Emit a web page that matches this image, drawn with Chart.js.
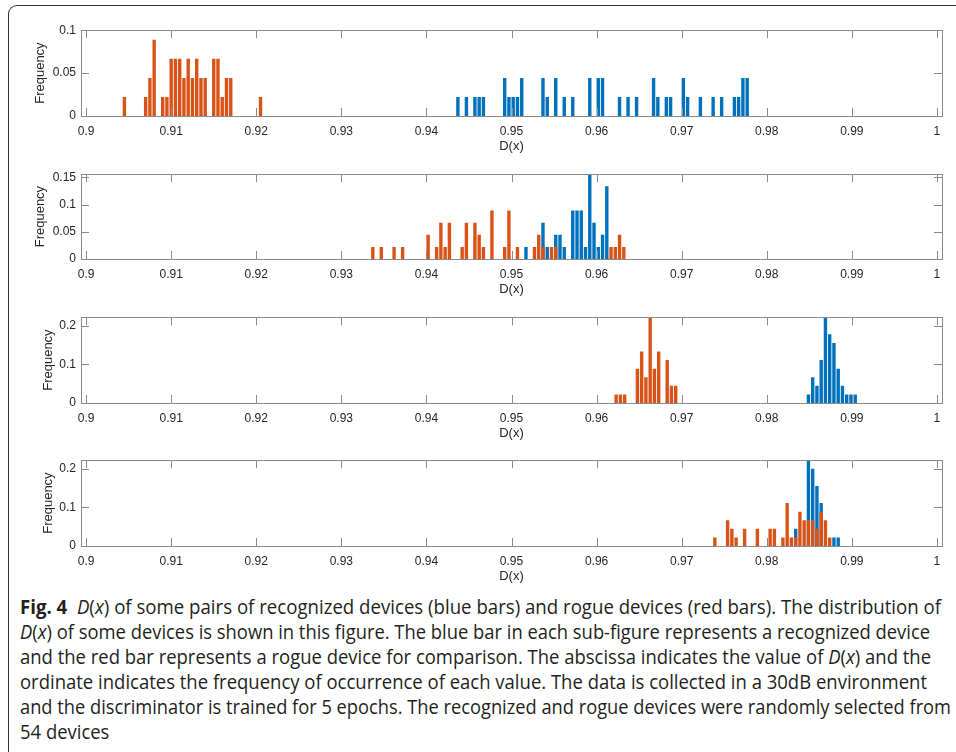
<!DOCTYPE html>
<html>
<head>
<meta charset="utf-8">
<script src="https://cdn.jsdelivr.net/npm/chart.js@4.4.1/dist/chart.umd.min.js"></script>
<style>
  html, body { margin: 0; padding: 0; background: #fff; }
  body { width: 956px; height: 752px; position: relative; overflow: hidden; }
  #frame { position: absolute; left: 8px; top: 5px; width: 980px; height: 780px;
           border-top: 1.3px solid #333; border-left: 1.3px solid #333; border-top-left-radius: 9px; }
  canvas { position: absolute; left: 0; }
  .ln { position: absolute; left: 20px; white-space: nowrap; font-family: 'Open Sans', sans-serif;
        font-size: 20px; line-height: 25px; color: #231f20; transform-origin: 0 50%; }
</style>
</head>
<body>
<div id="frame"></div>
<canvas id="p1" width="956" height="138" style="top:18px"></canvas>
<canvas id="p2" width="956" height="137" style="top:162px"></canvas>
<canvas id="p3" width="956" height="138" style="top:305px"></canvas>
<canvas id="p4" width="956" height="138" style="top:448px"></canvas>

<div class="ln" data-w="921" style="top:594px"><b>Fig. 4</b>&nbsp; <i>D</i>(<i>x</i>) of some pairs of recognized devices (blue bars) and rogue devices (red bars). The distribution of</div>
<div class="ln" data-w="910" style="top:619px"><i>D</i>(<i>x</i>) of some devices is shown in this figure. The blue bar in each sub-figure represents a recognized device</div>
<div class="ln" data-w="911" style="top:644px">and the red bar represents a rogue device for comparison. The abscissa indicates the value of <i>D</i>(<i>x</i>) and the</div>
<div class="ln" data-w="907" style="top:669px">ordinate indicates the frequency of occurrence of each value. The data is collected in a 30dB environment</div>
<div class="ln" data-w="931" style="top:694px">and the discriminator is trained for 5 epochs. The recognized and rogue devices were randomly selected from</div>
<div class="ln" id="last" style="top:719px">54 devices</div>

<script>
// ========== Data ==========
const xTicks = [0.9, 0.91, 0.92, 0.93, 0.94, 0.95, 0.96, 0.97, 0.98, 0.99, 1];
const xTickLabels = ['0.9', '0.91', '0.92', '0.93', '0.94', '0.95', '0.96', '0.97', '0.98', '0.99', '1'];

// panel 1
const p1RedX = [0.9045, 0.907, 0.9075, 0.908, 0.909, 0.9095, 0.91, 0.9105, 0.911, 0.9115, 0.912,
                0.9125, 0.913, 0.9135, 0.914, 0.915, 0.9155, 0.916, 0.9165, 0.917, 0.9205];
const p1RedY = [0.0222, 0.0222, 0.0444, 0.0889, 0.0222, 0.0222, 0.0667, 0.0667, 0.0667, 0.0444, 0.0667,
                0.0444, 0.0667, 0.0444, 0.0444, 0.0667, 0.0667, 0.0222, 0.0444, 0.0444, 0.0222];
const p1BlueX = [0.9437, 0.9447, 0.9457, 0.9462, 0.9467, 0.9492, 0.9497, 0.9502, 0.9507, 0.9512,
                 0.9537, 0.9542, 0.9552, 0.9562, 0.9572, 0.9592, 0.9602, 0.9607, 0.9627, 0.9637,
                 0.9647, 0.9667, 0.9672, 0.9682, 0.9687, 0.9702, 0.9707, 0.9722, 0.9737, 0.9747,
                 0.9762, 0.9767, 0.9772, 0.9777];
const p1BlueY = [0.0222, 0.0222, 0.0222, 0.0222, 0.0222, 0.0444, 0.0222, 0.0222, 0.0222, 0.0444,
                 0.0444, 0.0222, 0.0444, 0.0222, 0.0222, 0.0444, 0.0444, 0.0444, 0.0222, 0.0222,
                 0.0222, 0.0444, 0.0222, 0.0222, 0.0222, 0.0444, 0.0222, 0.0222, 0.0222, 0.0222,
                 0.0222, 0.0222, 0.0444, 0.0444];
const p1YTicks = [0, 0.05, 0.1];
const p1YTickLabels = ['0', '0.05', '0.1'];
const p1YMax = 0.1;

// panel 2
const p2RedX = [0.9337, 0.9347, 0.9362, 0.9372, 0.9402, 0.9412, 0.9417, 0.9422, 0.9427, 0.9442,
                0.9447, 0.9457, 0.9462, 0.9467, 0.9477, 0.9492, 0.9497, 0.9507, 0.9527, 0.9532,
                0.9537, 0.9547, 0.9552, 0.9617, 0.9622, 0.9627, 0.9632];
const p2RedY = [0.0222, 0.0222, 0.0222, 0.0222, 0.0444, 0.0222, 0.0667, 0.0222, 0.0667, 0.0222,
                0.0667, 0.0667, 0.0444, 0.0222, 0.0889, 0.0222, 0.0889, 0.0222, 0.0222, 0.0444,
                0.0222, 0.0222, 0.0222, 0.0222, 0.0222, 0.0444, 0.0222];
const p2BlueX = [0.9517, 0.9537, 0.9542, 0.9552, 0.9557, 0.9562, 0.9572, 0.9577, 0.9582, 0.9587,
                 0.9592, 0.9597, 0.9602, 0.9607, 0.9612];
const p2BlueY = [0.0222, 0.0667, 0.0222, 0.0444, 0.0444, 0.0222, 0.0889, 0.0889, 0.0889, 0.0222,
                 0.1556, 0.0667, 0.0222, 0.0444, 0.1333];
const p2YTicks = [0, 0.05, 0.1, 0.15];
const p2YTickLabels = ['0', '0.05', '0.1', '0.15'];
const p2YMax = 0.1556;

// panel 3
const p3RedX = [0.9623, 0.9628, 0.9633, 0.9648, 0.9653, 0.9658, 0.9663, 0.9668, 0.9673, 0.9683, 0.9688, 0.9693];
const p3RedY = [0.0222, 0.0222, 0.0222, 0.0889, 0.1333, 0.0667, 0.2222, 0.0889, 0.1333, 0.1111, 0.0444, 0.0444];
const p3BlueX = [0.9849, 0.9854, 0.9859, 0.9864, 0.9869, 0.9874, 0.9879, 0.9884, 0.9889, 0.9894, 0.9899, 0.9904];
const p3BlueY = [0.0222, 0.0667, 0.0444, 0.1111, 0.2222, 0.1778, 0.1556, 0.0889, 0.0444, 0.0222, 0.0222, 0.0222];
const p3YTicks = [0, 0.1, 0.2];
const p3YTickLabels = ['0', '0.1', '0.2'];
const p3YMax = 0.2222;

// panel 4
const p4RedX = [0.9739, 0.9754, 0.9759, 0.9764, 0.9774, 0.9789, 0.9804, 0.9809, 0.9819, 0.9824,
                0.9829, 0.9834, 0.9839, 0.9844, 0.9849, 0.9854, 0.9859, 0.9864, 0.9869, 0.9874];
const p4RedY = [0.0222, 0.0667, 0.0444, 0.0222, 0.0444, 0.0444, 0.0444, 0.0444, 0.0222, 0.1111,
                0.0222, 0.0222, 0.0889, 0.0667, 0.0667, 0.0667, 0.0444, 0.0889, 0.0667, 0.0222];
const p4BlueX = [0.9834, 0.9849, 0.9854, 0.9859, 0.9864, 0.9879, 0.9884];
const p4BlueY = [0.0444, 0.2222, 0.2, 0.1556, 0.1111, 0.0222, 0.0222];
const p4YTicks = [0, 0.1, 0.2];
const p4YTickLabels = ['0', '0.1', '0.2'];
const p4YMax = 0.2222;

const RED = '#D95319';
const BLUE = '#0072BD';
const AXIS = '#8a8a8a';
const TXT = '#262626';
const FONT = "'Liberation Sans', Arial, sans-serif";

// ========== MATLAB style box with inward ticks ==========
const matlabBox = {
  id: 'matlabBox',
  afterDatasetsDraw(chart) {
    const { ctx, chartArea: a, scales: { x, y } } = chart;
    const len = 8;
    ctx.save();
    ctx.strokeStyle = AXIS;
    ctx.lineWidth = 1;
    ctx.beginPath();
    x.ticks.forEach(t => {
      const px = Math.round(x.getPixelForValue(t.value)) + 0.5;
      ctx.moveTo(px, a.bottom); ctx.lineTo(px, a.bottom - len);
      ctx.moveTo(px, a.top); ctx.lineTo(px, a.top + len);
    });
    y.ticks.forEach(t => {
      const py = Math.round(y.getPixelForValue(t.value)) + 0.5;
      ctx.moveTo(a.left, py); ctx.lineTo(a.left + len, py);
      ctx.moveTo(a.right, py); ctx.lineTo(a.right - len, py);
    });
    ctx.stroke();
    ctx.strokeRect(Math.round(a.left) + 0.5, Math.round(a.top) + 0.5,
                   Math.round(a.right - a.left), Math.round(a.bottom - a.top));
    ctx.restore();
  }
};

function toPoints(xs, ys) {
  return xs.map((v, i) => ({ x: v, y: ys[i] }));
}

function makePanel(id, redX, redY, blueX, blueY, yMax, yTicks, yTickLabels, titleX) {
  new Chart(document.getElementById(id), {
    type: 'bar',
    data: {
      datasets: [
        { label: 'rogue', data: toPoints(redX, redY), backgroundColor: RED },
        { label: 'recognized', data: toPoints(blueX, blueY), backgroundColor: BLUE }
      ]
    },
    options: {
      responsive: false,
      animation: false,
      devicePixelRatio: 1,
      grouped: false,
      barPercentage: 0.8,
      categoryPercentage: 1,
      layout: { padding: { left: 0, right: 14, top: 8, bottom: 0 } },
      plugins: { legend: { display: false }, tooltip: { enabled: false } },
      scales: {
        x: {
          type: 'linear',
          min: 0.8994,
          max: 1.0006,
          offset: false,
          grid: { display: false, drawTicks: false },
          border: { display: false },
          afterBuildTicks: s => { s.ticks = xTicks.map(v => ({ value: v })); },
          afterFit: s => { s.height = 40; },
          ticks: {
            autoSkip: false, maxRotation: 0, padding: 8, color: TXT,
            font: { family: FONT, size: 12 },
            callback: (v, i) => xTickLabels[i]
          },
          title: {
            display: true, text: 'D(x)', color: TXT,
            font: { family: FONT, size: 13 },
            padding: { top: 0, bottom: 2.2 }
          }
        },
        y: {
          min: 0,
          max: yMax,
          grid: { display: false, drawTicks: false },
          border: { display: false },
          afterBuildTicks: s => { s.ticks = yTicks.map(v => ({ value: v })); },
          afterFit: s => { s.width = 81; },
          ticks: {
            padding: 5, color: TXT,
            font: { family: FONT, size: 12 },
            callback: (v, i) => yTickLabels[i]
          },
          title: {
            display: true, text: 'Frequency', color: TXT,
            font: { family: FONT, size: 13 },
            padding: { top: titleX - 7.8, bottom: 0 }
          }
        }
      }
    },
    plugins: [matlabBox]
  });
}

makePanel('p1', p1RedX, p1RedY, p1BlueX, p1BlueY, p1YMax, p1YTicks, p1YTickLabels, 40);
makePanel('p2', p2RedX, p2RedY, p2BlueX, p2BlueY, p2YMax, p2YTicks, p2YTickLabels, 40);
makePanel('p3', p3RedX, p3RedY, p3BlueX, p3BlueY, p3YMax, p3YTicks, p3YTickLabels, 48);
makePanel('p4', p4RedX, p4RedY, p4BlueX, p4BlueY, p4YMax, p4YTicks, p4YTickLabels, 48);

// ========== Caption: squeeze each line to the reference width ==========
let scales = [];
document.querySelectorAll('.ln[data-w]').forEach(el => {
  const k = (+el.dataset.w) / el.getBoundingClientRect().width;
  scales.push(k);
  el.style.transform = 'scaleX(' + k + ')';
});
const avg = scales.reduce((a, b) => a + b, 0) / scales.length;
document.getElementById('last').style.transform = 'scaleX(' + avg + ')';
</script>
</body>
</html>
